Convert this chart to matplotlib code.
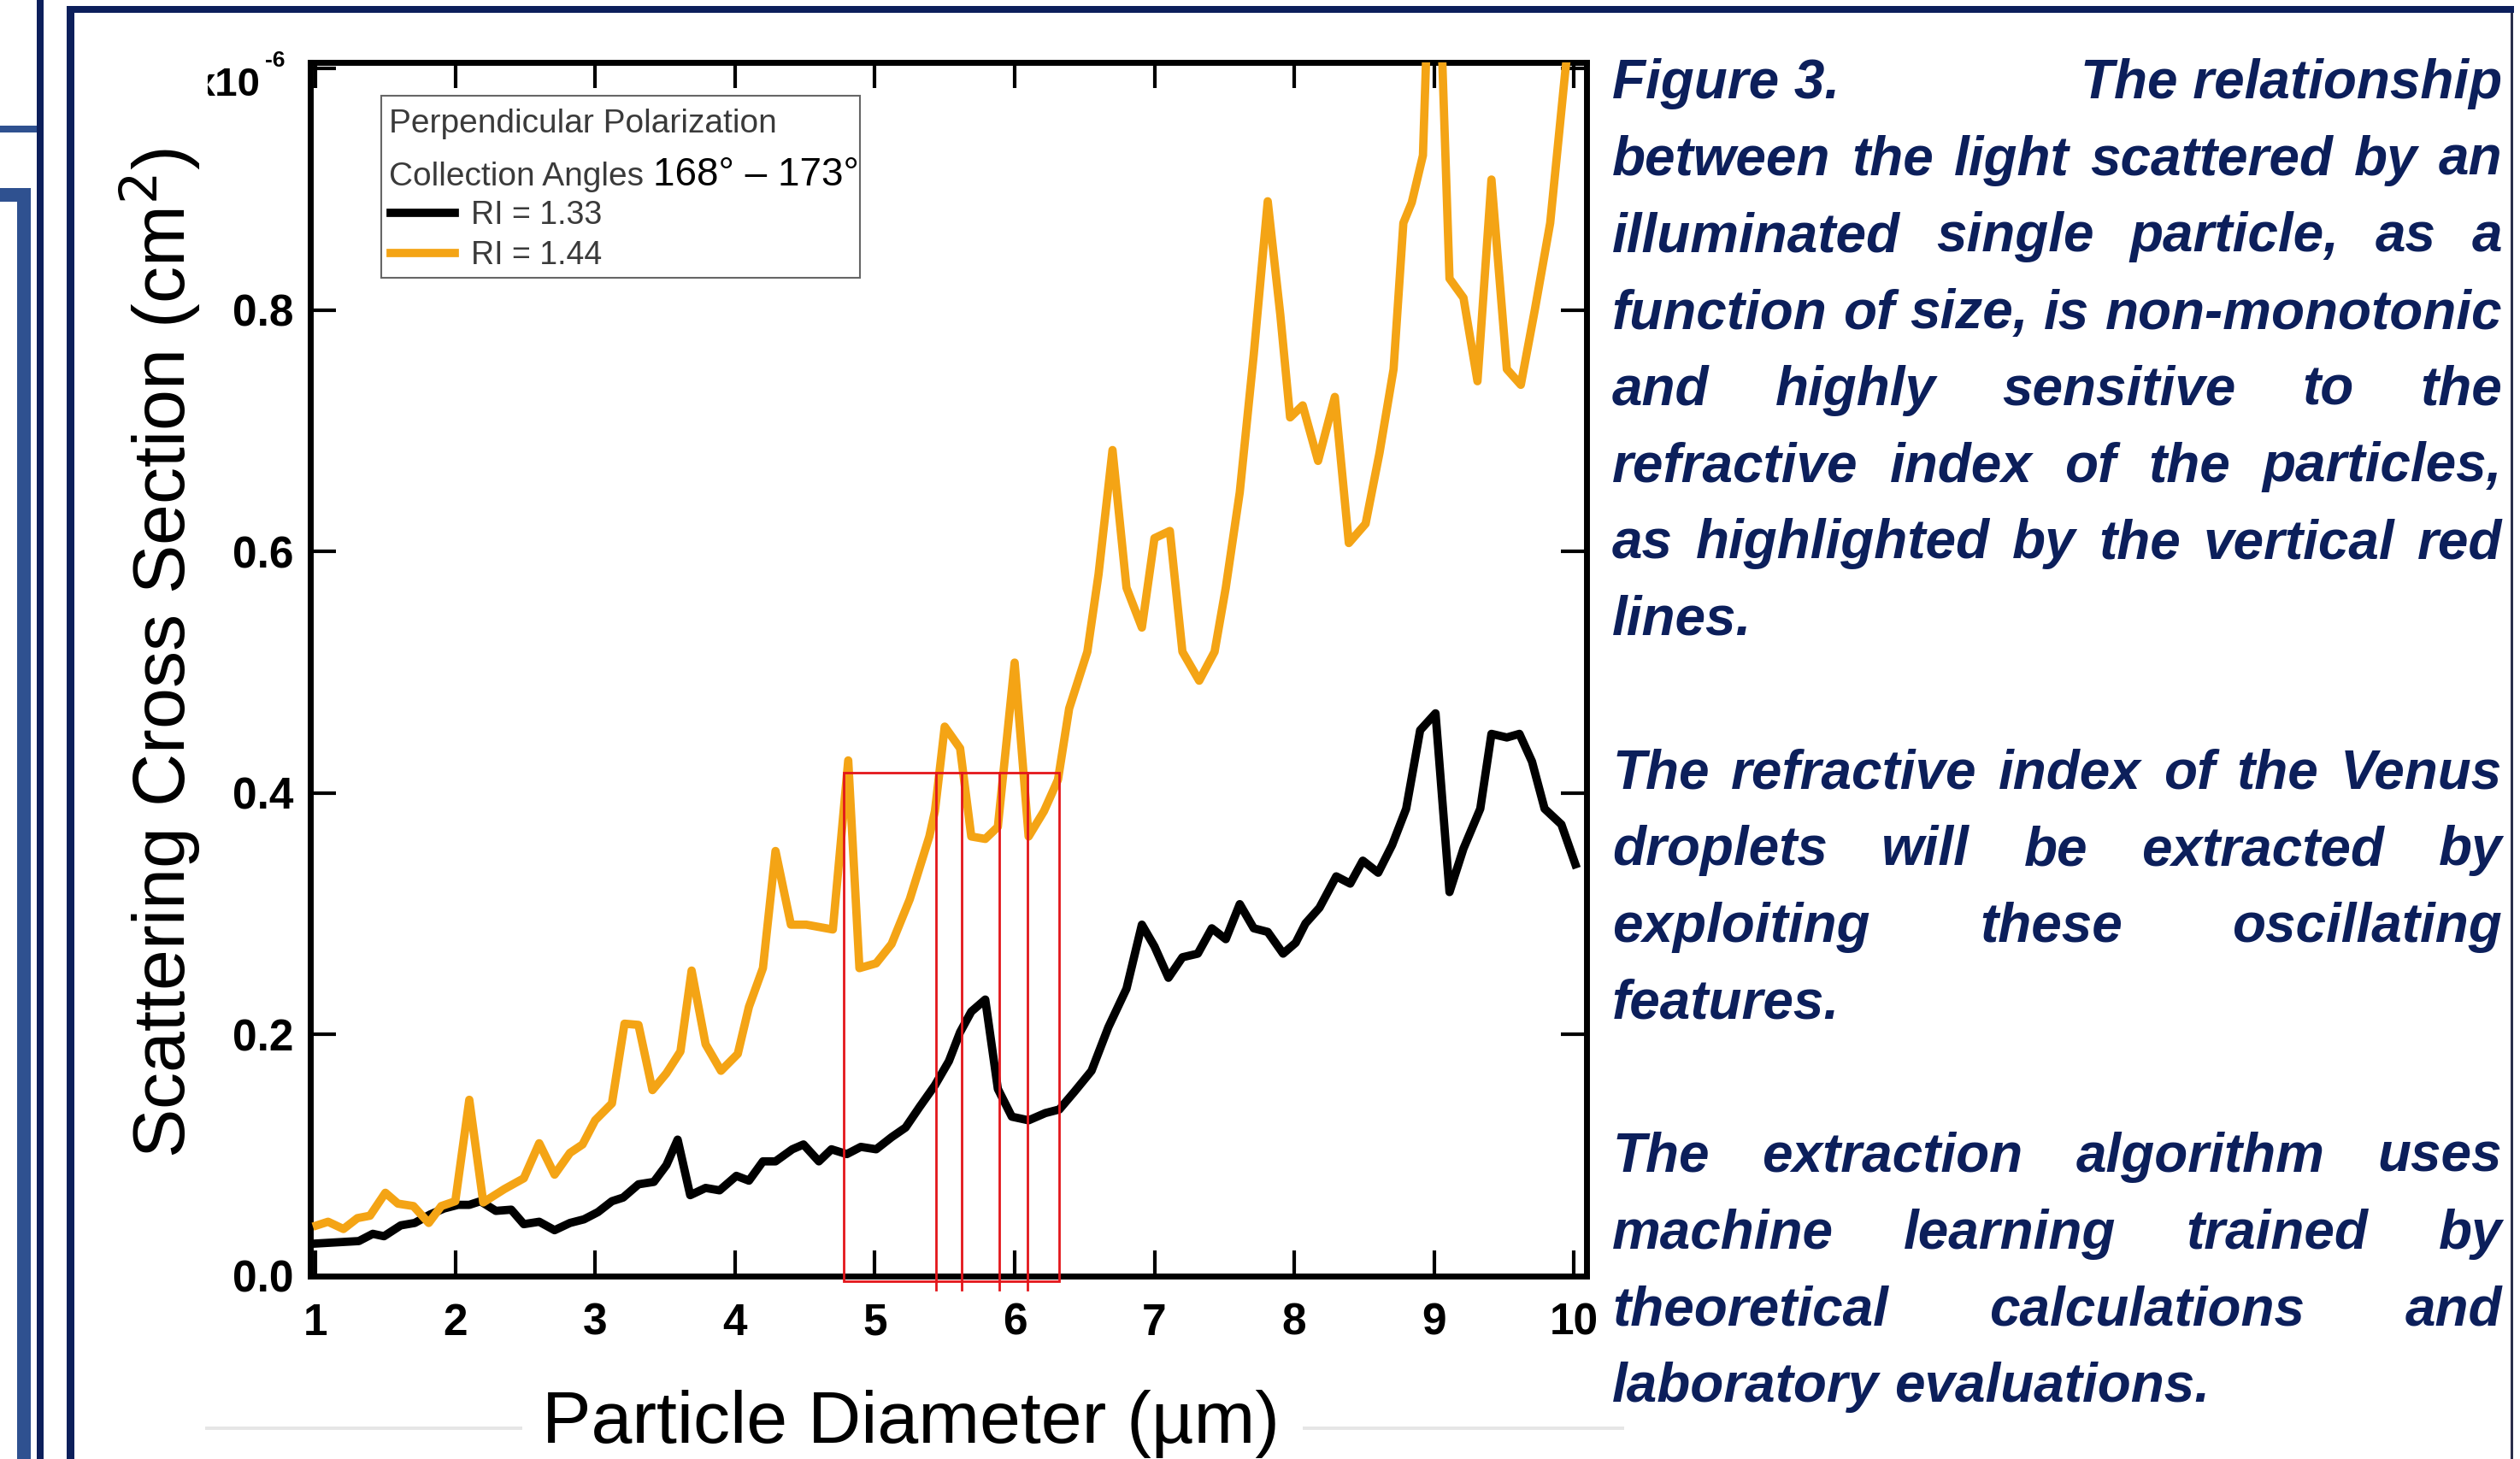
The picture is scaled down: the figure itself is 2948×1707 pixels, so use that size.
import matplotlib
matplotlib.use("Agg")
import matplotlib.pyplot as plt
from matplotlib.patches import Rectangle

plt.rcParams['font.family'] = ['Liberation Sans', 'DejaVu Sans']

# ---- data ----
# RI = 1.33 (black)
d_133 = [1.01, 1.31, 1.41, 1.49, 1.61, 1.71, 1.82, 1.92, 2.02, 2.10, 2.18, 2.29, 2.40,
         2.49, 2.60, 2.71, 2.82, 2.92, 3.02, 3.12, 3.20, 3.31, 3.42, 3.51, 3.59, 3.68,
         3.79, 3.89, 4.01, 4.10, 4.20, 4.29, 4.41, 4.49, 4.60, 4.69, 4.80, 4.90, 5.01,
         5.12, 5.22, 5.32, 5.43, 5.53, 5.61, 5.69, 5.79, 5.88, 5.98, 6.10, 6.22, 6.32,
         6.43, 6.55, 6.67, 6.80, 6.91, 7.00, 7.10, 7.20, 7.31, 7.41, 7.51, 7.61, 7.71,
         7.81, 7.92, 8.01, 8.08, 8.18, 8.30, 8.40, 8.49, 8.60, 8.70, 8.80, 8.90, 9.01,
         9.11, 9.21, 9.33, 9.41, 9.52, 9.61, 9.70, 9.79, 9.91, 10.01]
s_133 = [0.027, 0.029, 0.035, 0.033, 0.042, 0.044, 0.051, 0.056, 0.059, 0.059, 0.062, 0.054, 0.055,
         0.043, 0.045, 0.038, 0.044, 0.047, 0.053, 0.062, 0.065, 0.076, 0.078, 0.092, 0.113, 0.067,
         0.073, 0.071, 0.083, 0.079, 0.095, 0.095, 0.105, 0.109, 0.095, 0.105, 0.101, 0.107, 0.105,
         0.115, 0.123, 0.140, 0.158, 0.178, 0.202, 0.219, 0.229, 0.155, 0.132, 0.129, 0.135, 0.138,
         0.153, 0.170, 0.206, 0.238, 0.291, 0.273, 0.247, 0.264, 0.267, 0.288, 0.279, 0.308, 0.288,
         0.285, 0.267, 0.276, 0.292, 0.305, 0.331, 0.325, 0.344, 0.334, 0.357, 0.387, 0.452, 0.466,
         0.318, 0.354, 0.387, 0.449, 0.446, 0.449, 0.426, 0.387, 0.374, 0.341]

# RI = 1.44 (orange)
d_144 = [1.01, 1.09, 1.20, 1.30, 1.39, 1.50, 1.59, 1.70, 1.81, 1.90, 2.00, 2.10, 2.20,
         2.35, 2.49, 2.60, 2.71, 2.82, 2.91, 3.00, 3.12, 3.21, 3.31, 3.41, 3.51, 3.61,
         3.69, 3.79, 3.90, 4.02, 4.10, 4.20, 4.29, 4.40, 4.51, 4.70, 4.81, 4.89, 5.01,
         5.12, 5.25, 5.39, 5.43, 5.50, 5.61, 5.69, 5.79, 5.88, 6.00, 6.10, 6.21, 6.31,
         6.39, 6.52, 6.60, 6.70, 6.80, 6.91, 7.00, 7.11, 7.20, 7.32, 7.43, 7.51, 7.61,
         7.71, 7.81, 7.90, 7.97, 8.06, 8.17, 8.29, 8.39, 8.51, 8.61, 8.71, 8.78, 8.84,
         8.92, 9.00, 9.11, 9.21, 9.31, 9.41, 9.52, 9.62, 9.72, 9.83, 9.94, 10.0]
s_144 = [0.042, 0.045, 0.039, 0.048, 0.050, 0.069, 0.060, 0.058, 0.044, 0.058, 0.062, 0.146, 0.061,
         0.072, 0.081, 0.110, 0.084, 0.102, 0.109, 0.129, 0.143, 0.209, 0.208, 0.154, 0.168, 0.186,
         0.253, 0.192, 0.170, 0.184, 0.223, 0.255, 0.352, 0.291, 0.291, 0.287, 0.427, 0.255, 0.259,
         0.275, 0.312, 0.364, 0.385, 0.455, 0.437, 0.364, 0.362, 0.372, 0.508, 0.364, 0.385, 0.411,
         0.470, 0.517, 0.581, 0.684, 0.570, 0.537, 0.611, 0.617, 0.517, 0.493, 0.517, 0.570, 0.649,
         0.763, 0.890, 0.796, 0.711, 0.721, 0.675, 0.728, 0.607, 0.623, 0.682, 0.751, 0.872, 0.889,
         0.928, 1.210, 0.826, 0.810, 0.741, 0.908, 0.751, 0.738, 0.800, 0.872, 1.000, 1.060]

x_ticks = [1, 2, 3, 4, 5, 6, 7, 8, 9, 10]
y_ticks = [0.0, 0.2, 0.4, 0.6, 0.8]

# highlighted region and the vertical red lines
box_x = [4.78, 6.32]
box_top = 0.417
red_lines = [5.44, 5.62, 5.89, 6.09]

NAVY = '#0c1f5b'
LIGHT = '#2f5190'
ORANGE = '#f4a415'

W, H, DPI = 2948, 1707, 100
fig = plt.figure(figsize=(W / DPI, H / DPI), dpi=DPI)
fig.patch.set_facecolor('white')


def fx(x):
    return x / W


def fy(y):
    return 1 - y / H


def frect(x0, y0, x1, y1, color, z=5):
    fig.add_artist(Rectangle((fx(x0), fy(y1)), (x1 - x0) / W, (y1 - y0) / H,
                             transform=fig.transFigure, color=color, lw=0, zorder=z))


# slide frame lines
frect(43, 0, 51, H, NAVY)
frect(0, 147, 43, 155, LIGHT)
frect(0, 220, 36, 236, LIGHT)
frect(20, 220, 36, H, LIGHT)
frect(78, 7, 87, H, NAVY)
frect(78, 7, 2941, 15, NAVY)
frect(2937, 15, 2940, H, '#2a2f4a')
# faint edge of the pasted chart
frect(240, 1669, 611, 1673, '#e6e6e6', z=1)
frect(1524, 1669, 1900, 1673, '#e6e6e6', z=1)

# ---- chart ----
ax = fig.add_axes([fx(363), fy(1493), (1856 - 363) / W, (1493 - 73) / H])
ax.plot(d_133, s_133, color='black', lw=7, solid_joinstyle='round', label='RI = 1.33', zorder=3)
ax.plot(d_144, s_144, color=ORANGE, lw=7, solid_joinstyle='round', label='RI = 1.44', zorder=4)

ax.set_xlim(0.963, 10.09)
ax.set_ylim(0, 1.005)
ax.set_xticks(x_ticks, labels=[str(t) for t in x_ticks], fontweight='bold', fontsize=37)
ax.set_yticks(y_ticks + [1.0], labels=['%.1f' % t for t in y_ticks] + [''],
              fontweight='bold', fontsize=37)
ax.tick_params(direction='in', length=21.6, width=3, top=True, right=True, colors='black')
ax.tick_params(axis='x', pad=22)
ax.tick_params(axis='y', pad=14)
for sp in ax.spines.values():
    sp.set_linewidth(5)

# red highlight boxes
ax.add_patch(Rectangle((box_x[0], -0.004), box_x[1] - box_x[0], box_top + 0.004,
                       fill=False, ec='#e3161b', lw=2, zorder=6, clip_on=False))
for xv in red_lines:
    ax.plot([xv, xv], [-0.011, box_top], color='#e3161b', lw=2, zorder=6, clip_on=False)

# legend
fig.add_artist(Rectangle((fx(446), fy(325)), (1006 - 446) / W, (325 - 112) / H,
                         transform=fig.transFigure, fill=False, ec='#666666', lw=1.5, zorder=7))
fig.text(fx(455), fy(155), 'Perpendicular Polarization', fontsize=28, color='#3a3a3a',
         va='baseline', zorder=8)
fig.text(fx(455), fy(217), 'Collection Angles', fontsize=28, color='#3a3a3a',
         va='baseline', zorder=8)
fig.text(fx(764), fy(217), '168° – 173°', fontsize=33, color='black', va='baseline', zorder=8)
leg = ax.legend(loc='upper left', bbox_to_anchor=(fx(457), fy(234)), bbox_transform=fig.transFigure,
                frameon=False, fontsize=27, handlelength=2.0, handletextpad=0.5,
                labelspacing=0.3, borderpad=0, borderaxespad=0)
for t in leg.get_texts():
    t.set_color('#3a3a3a')

# multiplier
fig.text(fx(305), fy(112), 'x10', fontsize=34, fontweight='bold', ha='right', va='baseline')
fig.text(fx(310), fy(78), '-6', fontsize=19, fontweight='bold', ha='left', va='baseline')
frect(120, 20, 243, 140, 'white', z=6)

# axis labels
fig.text(fx(188), fy(764), 'Scattering Cross Section (cm$^2$)', fontsize=62, rotation=90,
         ha='center', va='center')
fig.text(fx(1066), fy(1688), 'Particle Diameter (µm)', fontsize=62, ha='center', va='baseline')

# ---- caption text on the right, justified ----
L, R = 1886, 2927
caption = [
    (0, ['Figure 3.', 'The relationship'], True),
    (1, 'between the light scattered by an'.split(), True),
    (2, 'illuminated single particle, as a'.split(), True),
    (3, 'function of size, is non-monotonic'.split(), True),
    (4, 'and highly sensitive to the'.split(), True),
    (5, 'refractive index of the particles,'.split(), True),
    (6, 'as highlighted by the vertical red'.split(), True),
    (7, ['lines.'], False),
    (9, 'The refractive index of the Venus'.split(), True),
    (10, 'droplets will be extracted by'.split(), True),
    (11, 'exploiting these oscillating'.split(), True),
    (12, ['features.'], False),
    (14, 'The extraction algorithm uses'.split(), True),
    (15, 'machine learning trained by'.split(), True),
    (16, 'theoretical calculations and'.split(), True),
    (17, 'laboratory evaluations.'.split(), False),
]
cap_kw = dict(fontsize=46, fontweight='bold', fontstyle='italic', color=NAVY, va='baseline')
renderer = fig.canvas.get_renderer()
t1 = fig.text(0, 0, 'x x', **cap_kw)
t2 = fig.text(0, 0, 'xx', **cap_kw)
space_w = t1.get_window_extent(renderer).width - t2.get_window_extent(renderer).width
t1.remove()
t2.remove()

for k, words, justify in caption:
    yb = 115 + 89.7 * k
    texts = [fig.text(0, fy(yb), w, **cap_kw) for w in words]
    widths = [t.get_window_extent(renderer).width for t in texts]
    if justify and len(words) > 1:
        gap = (R - L - sum(widths)) / (len(words) - 1)
    else:
        gap = space_w
    x = L
    for t, w in zip(texts, widths):
        t.set_x(fx(x))
        x += w + gap

fig.savefig('out.png', dpi=DPI)
